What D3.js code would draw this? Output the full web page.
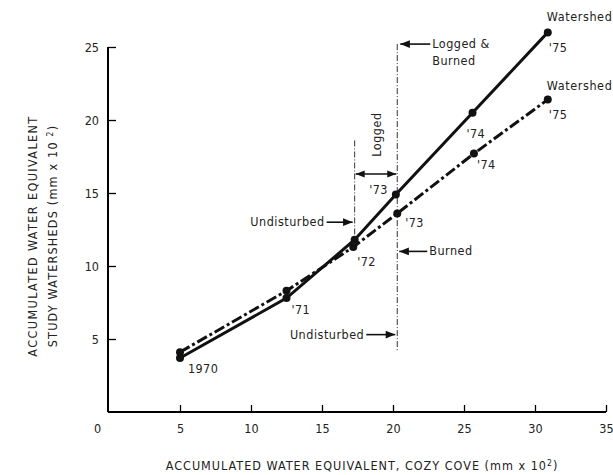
<!DOCTYPE html>
<html lang="en">
<head>
<meta charset="utf-8">
<script src="https://d3js.org/d3.v7.min.js"></script>
<style>
  body { margin: 0; background: #fff; }
  svg text { font-family: "DejaVu Sans Condensed", "Liberation Sans Narrow", sans-serif; fill: #222; }
</style>
</head>
<body>
<script>
// years and accumulated water equivalent (mm x 10^2)
const years = ["1970", "'71", "'72", "'73", "'74", "'75"];
// solid line watershed
const cozyA = [5.0, 12.5, 17.3, 20.2, 25.6, 30.9];
const shedA = [3.7, 7.8, 11.8, 14.9, 20.5, 26.0];
// dash-dot line watershed
const cozyB = [5.0, 12.5, 17.2, 20.3, 25.7, 30.9];
const shedB = [4.1, 8.3, 11.3, 13.6, 17.7, 21.4];
// treatment boundaries on the Cozy Cove axis
const logStart = 17.3, burnStart = 20.3;
const xTicks = [0, 5, 10, 15, 20, 25, 30, 35];
const yTicks = [5, 10, 15, 20, 25];

const width = 613, height = 475;
const svg = d3.select("body").append("svg")
    .attr("width", width).attr("height", height);

const x = d3.scaleLinear().domain([0, 35]).range([109, 606]);
const y = d3.scaleLinear().domain([0, 25]).range([412, 47]);

// axes
svg.append("g")
    .attr("transform", "translate(0,412)")
    .call(d3.axisBottom(x).tickValues(xTicks).tickSize(-7).tickSizeOuter(0).tickPadding(12).tickFormat(d3.format("d")))
    .call(g => {
        g.select(".domain").attr("stroke-width", 2).attr("d", "M108,0H606");
        g.selectAll(".tick line").attr("stroke-width", 1.3);
        g.selectAll(".tick").filter(d => d === 0).select("line").remove();
        g.selectAll(".tick").filter(d => d === 0).select("text").attr("dx", -12);
        g.selectAll(".tick text").attr("font-size", 12.5).attr("fill", "#222")
            .attr("font-family", "DejaVu Sans Condensed, sans-serif");
    });

svg.append("g")
    .attr("transform", "translate(108,0)")
    .call(d3.axisLeft(y).tickValues(yTicks).tickSize(-8).tickSizeOuter(0).tickPadding(9))
    .call(g => {
        g.select(".domain").attr("stroke-width", 2).attr("d", "M0,412V" + y(25));
        g.selectAll(".tick line").attr("stroke-width", 1.3);
        g.selectAll(".tick text").attr("font-size", 12.5).attr("fill", "#222")
            .attr("font-family", "DejaVu Sans Condensed, sans-serif");
    });

// axis titles
svg.append("text")
    .attr("x", 362).attr("y", 470)
    .attr("text-anchor", "middle").attr("font-size", 12.5).attr("letter-spacing", 1)
    .html("ACCUMULATED WATER EQUIVALENT, COZY COVE (mm x 10<tspan dy='-4' font-size='8.5'>2</tspan><tspan dy='4'>)</tspan>");

const yt = svg.append("g").attr("transform", "translate(0,236) rotate(-90)");
yt.append("text").attr("x", 0).attr("y", 37)
    .attr("text-anchor", "middle").attr("font-size", 12.5).attr("letter-spacing", 1.4)
    .text("ACCUMULATED WATER EQUIVALENT");
yt.append("text").attr("x", 0).attr("y", 57)
    .attr("text-anchor", "middle").attr("font-size", 12.5).attr("letter-spacing", 1.2)
    .html("STUDY WATERSHEDS  (mm x 10 <tspan dy='-4' font-size='8.5'>2</tspan><tspan dy='4'>)</tspan>");

// arrowhead
svg.append("defs").append("marker")
    .attr("id", "arr").attr("viewBox", "0 0 10 10")
    .attr("refX", 10).attr("refY", 5)
    .attr("markerWidth", 7).attr("markerHeight", 6).attr("orient", "auto-start-reverse")
    .append("path").attr("d", "M0,1L10,5L0,9Z").attr("fill", "#111");

// treatment boundary lines
svg.append("line")
    .attr("x1", x(logStart)).attr("x2", x(logStart))
    .attr("y1", y(18.6)).attr("y2", y(11.6))
    .attr("stroke", "#333").attr("stroke-width", 1).attr("stroke-dasharray", "6,2,1,2");
svg.append("line")
    .attr("x1", x(burnStart)).attr("x2", x(burnStart))
    .attr("y1", y(25.2)).attr("y2", y(4.2))
    .attr("stroke", "#333").attr("stroke-width", 1).attr("stroke-dasharray", "6,2,1,2");

// "Logged" span arrow
svg.append("line")
    .attr("x1", x(logStart) + 1).attr("x2", x(burnStart) - 1)
    .attr("y1", y(16.3)).attr("y2", y(16.3))
    .attr("stroke", "#111").attr("stroke-width", 1.5)
    .attr("marker-start", "url(#arr)").attr("marker-end", "url(#arr)");
svg.append("text")
    .attr("transform", `translate(${(x(logStart) + x(burnStart)) / 2 + 5},${y(19.0)}) rotate(-90)`)
    .attr("text-anchor", "middle").attr("font-size", 12.5).attr("letter-spacing", 0.5).text("Logged");

// annotation arrows with labels
function note(xTip, xTail, yv, label, anchor) {
    svg.append("line")
        .attr("x1", xTail).attr("x2", xTip).attr("y1", y(yv)).attr("y2", y(yv))
        .attr("stroke", "#111").attr("stroke-width", 1.6).attr("marker-end", "url(#arr)");
    const t = svg.append("text")
        .attr("x", anchor === "end" ? xTail - 2 : xTail + 2)
        .attr("y", y(yv) + 4)
        .attr("text-anchor", anchor).attr("font-size", 12.5).attr("letter-spacing", 0.5);
    label.forEach((l, i) => t.append("tspan").attr("x", anchor === "end" ? xTail - 2 : xTail + 2)
        .attr("dy", i ? 17 : 0).text(l));
}
note(x(burnStart) + 3, x(burnStart) + 33, 25.2, ["Logged &", "Burned"], "start");
note(x(burnStart) + 2, x(burnStart) + 30, 11.0, ["Burned"], "start");
note(x(logStart) - 2, x(logStart) - 28, 13.0, ["Undisturbed"], "end");
note(x(burnStart) - 2, x(burnStart) - 31, 5.3, ["Undisturbed"], "end");

// series lines
const line = d3.line().x(d => x(d[0])).y(d => y(d[1]));
const ptsA = cozyA.map((c, i) => [c, shedA[i]]);
const ptsB = cozyB.map((c, i) => [c, shedB[i]]);

svg.append("path").datum(ptsA)
    .attr("d", line).attr("fill", "none").attr("stroke", "#111").attr("stroke-width", 3);
svg.append("path").datum(ptsB)
    .attr("d", line).attr("fill", "none").attr("stroke", "#111").attr("stroke-width", 3)
    .attr("stroke-dasharray", "11,3,3,3");

svg.selectAll(".dotA").data(ptsA).enter().append("circle")
    .attr("cx", d => x(d[0])).attr("cy", d => y(d[1])).attr("r", 4).attr("fill", "#111");
svg.selectAll(".dotB").data(ptsB).enter().append("circle")
    .attr("cx", d => x(d[0])).attr("cy", d => y(d[1])).attr("r", 4).attr("fill", "#111");

// year labels (offsets from each dot)
const offA = [[8, 15, "start"], [5, 16, "start"], null, [-8, 0, "end"], [-6, 25, "start"], [1, 20, "start"]];
const offB = [null, null, [4, 19, "start"], [8, 14, "start"], [3, 15, "start"], [1, 19, "start"]];
function yearLabels(pts, offs) {
    pts.forEach((p, i) => {
        const o = offs[i];
        if (!o) return;
        svg.append("text")
            .attr("x", x(p[0]) + o[0]).attr("y", y(p[1]) + o[1])
            .attr("text-anchor", o[2]).attr("font-size", 12.5).attr("letter-spacing", 0.4).text(years[i]);
    });
}
yearLabels(ptsA, offA);
yearLabels(ptsB, offB);

// series names
svg.append("text").attr("x", x(cozyA[5]) - 1).attr("y", y(shedA[5]) - 11)
    .attr("font-size", 12.5).attr("letter-spacing", 0.6).text("Watershed");
svg.append("text").attr("x", x(cozyB[5]) - 1).attr("y", y(shedB[5]) - 10)
    .attr("font-size", 12.5).attr("letter-spacing", 0.6).text("Watershed");
</script>
</body>
</html>
